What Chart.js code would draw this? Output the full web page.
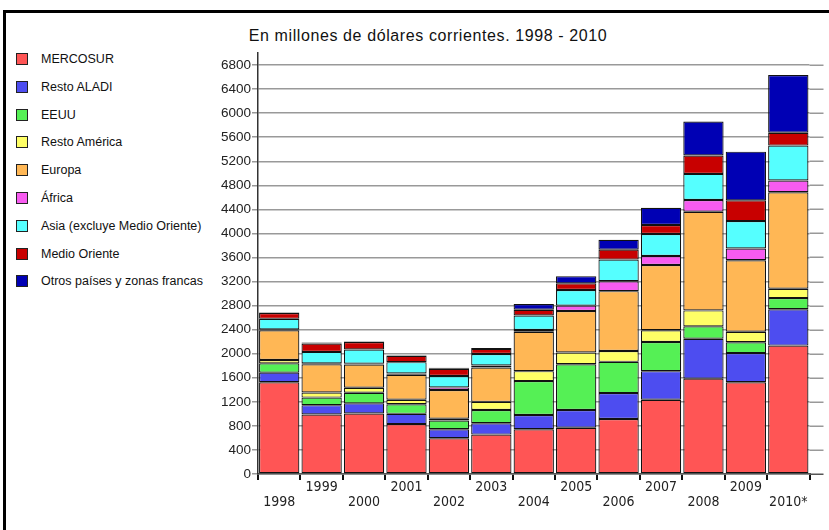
<!DOCTYPE html>
<html>
<head>
<meta charset="utf-8">
<script src="https://cdn.jsdelivr.net/npm/chart.js@4/dist/chart.umd.min.js"></script>
<style>
  html, body { margin: 0; padding: 0; background: #fff; overflow: hidden; }
  #wrap { position: relative; width: 829px; height: 530px; }
  #frame { position: absolute; left: 3px; top: 10px; width: 840px; height: 540px; border-left: 3px solid #000; border-top: 3px solid #000; box-sizing: border-box; }
  #title { position: absolute; left: 0; top: 27px; width: 856px; text-align: center; font: 16px "Liberation Sans", Arial, sans-serif; letter-spacing: 0.6px; color: #111; }
  #legend { position: absolute; left: 0; top: 0; }
  .item { position: absolute; left: 16px; height: 12px; white-space: nowrap; }
  .box { position: absolute; left: 0; top: 0; width: 12px; height: 12px; box-sizing: border-box; border: 1px solid #222; }
  .lbl { position: absolute; left: 25px; top: -2px; font: 12.5px "Liberation Sans", Arial, sans-serif; color: #111; line-height: 16px; }
  canvas { position: absolute; left: 0; top: 0; }
</style>
</head>
<body>
<div id="wrap">
  <div id="frame"></div>
  <div id="title">En millones de dólares corrientes. 1998 - 2010</div>
  <div id="legend"></div>
  <canvas id="c" width="829" height="530"></canvas>
</div>
<script>
  const years = ["1998", "1999", "2000", "2001", "2002", "2003", "2004", "2005", "2006", "2007", "2008", "2009", "2010*"];
  const yTicks = [0, 400, 800, 1200, 1600, 2000, 2400, 2800, 3200, 3600, 4000, 4400, 4800, 5200, 5600, 6000, 6400, 6800];

  const mercosur     = [1525, 990, 1005, 830, 595, 655, 745, 770, 915, 1235, 1585, 1525, 2135];
  const restoAladi   = [160, 155, 170, 170, 150, 190, 235, 295, 430, 475, 665, 485, 605];
  const eeuu         = [155, 125, 175, 160, 145, 220, 565, 760, 520, 485, 205, 180, 185];
  const restoAmerica = [55, 85, 85, 75, 30, 135, 165, 195, 180, 195, 265, 175, 155];
  const europa       = [495, 470, 385, 415, 475, 570, 655, 690, 995, 1085, 1640, 1190, 1605];
  const africa       = [15, 15, 15, 20, 45, 35, 30, 90, 165, 150, 195, 195, 195];
  const asia         = [175, 190, 235, 190, 190, 190, 240, 260, 360, 365, 435, 455, 580];
  const medioOriente = [95, 140, 125, 105, 120, 85, 95, 110, 165, 150, 305, 345, 215];
  const otros        = [10, 15, 10, 10, 15, 15, 95, 120, 165, 285, 565, 810, 960];

  const seriesNames = ["MERCOSUR", "Resto ALADI", "EEUU", "Resto América", "Europa", "África",
    "Asia (excluye Medio Oriente)", "Medio Oriente", "Otros países y zonas francas"];
  const seriesData = [mercosur, restoAladi, eeuu, restoAmerica, europa, africa, asia, medioOriente, otros];
  const seriesColors = ["#ff5555", "#4d4df0", "#55f055", "#ffff66", "#ffb755", "#f75bf0", "#55ffff", "#c80000", "#0000b4"];

  // legend (html, left column)
  const legendEl = document.getElementById("legend");
  seriesNames.forEach((name, i) => {
    const it = document.createElement("div");
    it.className = "item";
    it.style.top = (53 + i * 27.8) + "px";
    it.innerHTML = `<div class="box" style="background:${seriesColors[i]}"></div><div class="lbl">${name}</div>`;
    legendEl.appendChild(it);
  });

  // grid lines run a bit past the last bar in the original
  const extendGrid = {
    id: "extendGrid",
    afterDraw(chart) {
      const { ctx, chartArea, scales } = chart;
      const y = scales.y;
      ctx.save();
      ctx.lineWidth = 1.5;
      for (const t of y.ticks) {
        const py = Math.round(y.getPixelForValue(t.value)) + 0.25;
        ctx.strokeStyle = t.value === 0 ? "#555" : "#999";
        ctx.beginPath();
        ctx.moveTo(chartArea.right, py);
        ctx.lineTo(chartArea.right + 14, py);
        ctx.stroke();
      }
      ctx.restore();
    },
  };

  const ctx = document.getElementById("c").getContext("2d");
  new Chart(ctx, {
    type: "bar",
    data: {
      labels: years,
      datasets: seriesData.map((d, i) => ({
        label: seriesNames[i],
        data: d,
        backgroundColor: seriesColors[i],
        borderColor: "#111",
        borderWidth: 1.2,
        borderSkipped: false,
        barPercentage: 0.95,
        categoryPercentage: 1,
      })),
    },
    options: {
      responsive: false,
      animation: false,
      layout: { padding: { left: 198, right: 19.5, top: 53, bottom: 16 } },
      plugins: { legend: { display: false }, title: { display: false }, tooltip: { enabled: false } },
      scales: {
        x: {
          stacked: true,
          afterFit: (s) => { s.height = 40; },
          grid: { display: true, drawOnChartArea: false, drawTicks: true, tickLength: 6, color: "#111", lineWidth: 2, offset: true },
          border: { display: true, color: "#555", width: 1.5 },
          ticks: {
            autoSkip: false, maxRotation: 0, padding: 0, color: "#222",
            font: { family: "'DejaVu Sans Condensed', 'Liberation Sans Narrow', sans-serif", size: 14, lineHeight: "15px" },
            callback: (v, i) => (i % 2 === 0 ? ["", years[i]] : [years[i]]),
          },
        },
        y: {
          stacked: true,
          min: 0,
          max: 7000,
          afterFit: (s) => { s.width = 60; },
          afterBuildTicks: (s) => { s.ticks = yTicks.map((v) => ({ value: v })); },
          grid: { color: "#999", lineWidth: 1.5, tickLength: 6, drawTicks: true },
          border: { display: true, color: "#333", width: 1.5 },
          ticks: {
            padding: 1, color: "#222",
            font: { family: "'Liberation Sans', Arial, sans-serif", size: 13.5 },
            callback: (v) => String(v),
          },
        },
      },
    },
    plugins: [extendGrid],
  });
</script>
</body>
</html>
